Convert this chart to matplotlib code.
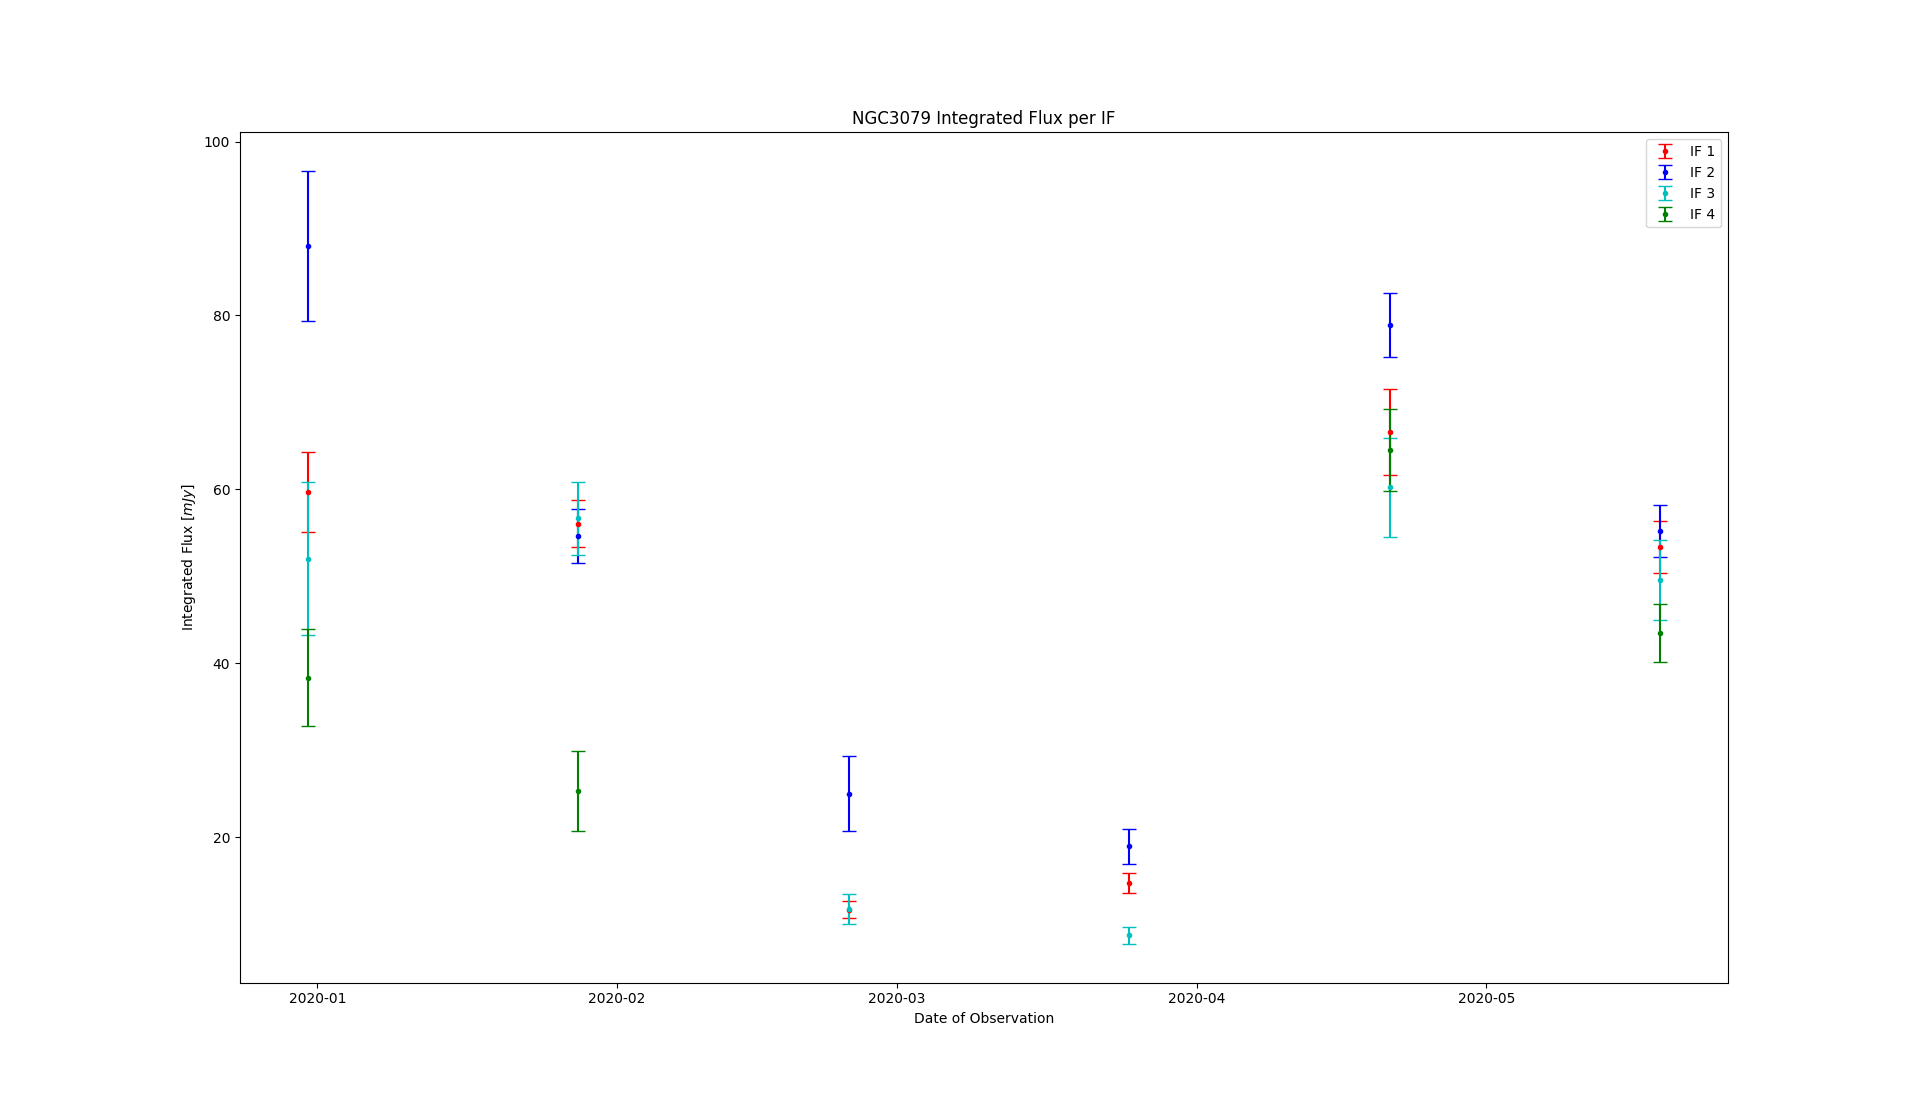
import numpy as np
import datetime as dt
from matplotlib import pyplot as plt

dates = [dt.datetime(2019, 12, 31), dt.datetime(2020, 1, 28), dt.datetime(2020, 2, 25),
         dt.datetime(2020, 3, 25), dt.datetime(2020, 4, 21), dt.datetime(2020, 5, 19)]

if1_flux = [59.7, 56.05, 11.67, 14.7, 66.6, 53.4]
if1_err = [4.65, 2.7, 0.95, 1.17, 5.0, 3.0]

if2_flux = [88.0, 54.6, 25.0, 18.95, 78.9, 55.2]
if2_err = [8.6, 3.1, 4.3, 2.03, 3.7, 2.95]

if3_flux = [52.0, 56.7, 11.75, 8.7, 60.25, 49.6]
if3_err = [8.8, 4.2, 1.73, 0.97, 5.7, 4.6]

if4_flux = [38.35, 25.3, np.nan, np.nan, 64.55, 43.5]
if4_err = [5.57, 4.6, np.nan, np.nan, 4.72, 3.35]

plt.figure(figsize=(19.2, 11.04), dpi=100)
plt.errorbar(dates, if1_flux, yerr=if1_err, fmt='.', c='r', capsize=5, label='IF 1')
plt.errorbar(dates, if2_flux, yerr=if2_err, fmt='.', c='b', capsize=5, label='IF 2')
plt.errorbar(dates, if3_flux, yerr=if3_err, fmt='.', c='c', capsize=5, label='IF 3')
plt.errorbar(dates, if4_flux, yerr=if4_err, fmt='.', c='g', capsize=5, label='IF 4')

plt.title('NGC3079 Integrated Flux per IF')
plt.xlabel('Date of Observation')
plt.ylabel('Integrated Flux [$mJy$]')
plt.legend(loc='upper right')
plt.savefig('out.png', dpi=100)
